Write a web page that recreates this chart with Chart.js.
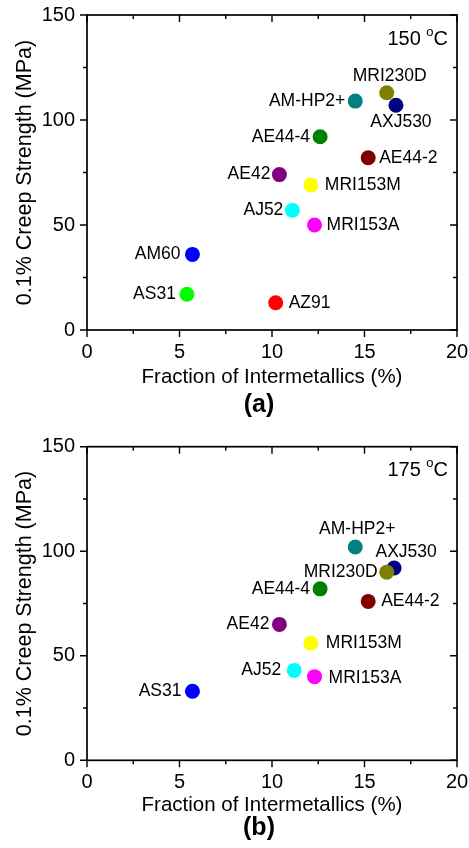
<!DOCTYPE html>
<html lang="en">
<head>
<meta charset="UTF-8">
<title>0.1% Creep Strength vs Fraction of Intermetallics</title>
<style>
  body { margin: 0; background: #fff; }
  canvas { display: block; }
</style>
</head>
<body>
<canvas id="chartA" width="469" height="424"></canvas>
<canvas id="chartB" width="469" height="424"></canvas>

<script src="https://cdn.jsdelivr.net/npm/chart.js"></script>
<script>
// (a) 150 °C
const alloysA   = ['MRI230D', 'AXJ530', 'AM-HP2+', 'AE44-4', 'AE44-2', 'AE42', 'MRI153M', 'AJ52', 'MRI153A', 'AM60', 'AS31', 'AZ91'];
const fractionA = [16.2, 16.7, 14.5, 12.6, 15.2, 10.4, 12.1, 11.1, 12.3, 5.7, 5.4, 10.2];
const strengthA = [113, 107, 109, 92, 82, 74, 69, 57, 50, 36, 17, 13];
const colorsA   = ['#808000', '#000080', '#008080', '#008000', '#800000', '#800080', '#ffff00', '#00ffff', '#ff00ff', '#0000ff', '#00ff00', '#ff0000'];

// (b) 175 °C
const alloysB   = ['AM-HP2+', 'AXJ530', 'MRI230D', 'AE44-4', 'AE44-2', 'AE42', 'MRI153M', 'AJ52', 'MRI153A', 'AS31'];
const fractionB = [14.5, 16.6, 16.2, 12.6, 15.2, 10.4, 12.1, 11.2, 12.3, 5.7];
const strengthB = [102, 92, 90, 82, 76, 65, 56, 43, 40, 33];
const colorsB   = ['#008080', '#000080', '#808000', '#008000', '#800000', '#800080', '#ffff00', '#00ffff', '#ff00ff', '#0000ff'];

const xTicks = [0, 5, 10, 15, 20];
const yTicks = [0, 50, 100, 150];

const FONT = '"Liberation Sans", Arial, sans-serif';

// where each label sits next to its dot: side, dx, dy (px)
const placeA = {
  'MRI230D': ['above', 3, -17], 'AXJ530': ['below', 5, 17], 'AM-HP2+': ['left', -10, 0],
  'AE44-4': ['left', -10, 0], 'AE44-2': ['right', 11, 0], 'AE42': ['left', -9, 0],
  'MRI153M': ['right', 14, 0], 'AJ52': ['left', -9, 0], 'MRI153A': ['right', 12, 0],
  'AM60': ['left', -12, 0], 'AS31': ['left', -11, 0], 'AZ91': ['right', 13, 0]
};
const placeB = {
  'AM-HP2+': ['above', 2, -18], 'AXJ530': ['above', 12, -16], 'MRI230D': ['left', -9, 0],
  'AE44-4': ['left', -10, 0], 'AE44-2': ['right', 13, 0], 'AE42': ['left', -10, 0],
  'MRI153M': ['right', 15, 0], 'AJ52': ['left', -13, 0], 'MRI153A': ['right', 14, 1],
  'AS31': ['left', -11, 0]
};

// box frame with ticks: outward on left/bottom, inward on top/right
const frameTicks = {
  id: 'frameTicks',
  afterDatasetsDraw(chart) {
    const { ctx, chartArea: a, scales: { x, y } } = chart;
    ctx.save();
    ctx.strokeStyle = '#000';
    ctx.lineWidth = 1.7;
    ctx.strokeRect(a.left, a.top, a.right - a.left, a.bottom - a.top);
    ctx.lineWidth = 1.4;
    ctx.beginPath();
    const xs = [], ys = [];
    xTicks.forEach((v, i) => {
      xs.push([x.getPixelForValue(v), 7]);
      if (i < xTicks.length - 1) xs.push([x.getPixelForValue((v + xTicks[i + 1]) / 2), 4]);
    });
    yTicks.forEach((v, i) => {
      ys.push([y.getPixelForValue(v), 7]);
      if (i < yTicks.length - 1) ys.push([y.getPixelForValue((v + yTicks[i + 1]) / 2), 4]);
    });
    xs.forEach(([px, len]) => {
      ctx.moveTo(px, a.bottom); ctx.lineTo(px, a.bottom + len);
      ctx.moveTo(px, a.top); ctx.lineTo(px, a.top + len);
    });
    ys.forEach(([py, len]) => {
      ctx.moveTo(a.left, py); ctx.lineTo(a.left - len, py);
      ctx.moveTo(a.right, py); ctx.lineTo(a.right - len, py);
    });
    ctx.stroke();
    ctx.restore();
  }
};

// alloy names next to the dots, temperature and panel letter
const annotations = {
  id: 'annotations',
  afterDatasetsDraw(chart, args, opts) {
    const { ctx, chartArea: a } = chart;
    const meta = chart.getDatasetMeta(0);
    ctx.save();
    ctx.fillStyle = '#000';
    ctx.font = '17.5px ' + FONT;
    ctx.textBaseline = 'middle';
    meta.data.forEach((pt, i) => {
      const name = opts.names[i];
      const [side, dx, dy] = opts.place[name];
      ctx.textAlign = side === 'left' ? 'right' : (side === 'right' ? 'left' : 'center');
      ctx.fillText(name, pt.x + dx, pt.y + dy);
    });

    // temperature, e.g. 150 °C with a raised o
    ctx.textBaseline = 'alphabetic';
    ctx.textAlign = 'left';
    ctx.font = '20px ' + FONT;
    const wNum = ctx.measureText(opts.temp + ' ').width;
    const wC = ctx.measureText('C').width;
    ctx.font = '13px ' + FONT;
    const wO = ctx.measureText('o').width;
    let tx = a.right - 9 - wC - wO - wNum;
    const base = a.top + opts.tempBase;
    ctx.font = '20px ' + FONT;
    ctx.fillText(opts.temp + ' ', tx, base);
    tx += wNum;
    ctx.font = '13px ' + FONT;
    ctx.fillText('o', tx, base - 9);
    tx += wO;
    ctx.font = '20px ' + FONT;
    ctx.fillText('C', tx, base);

    ctx.font = 'bold 25px ' + FONT;
    ctx.textAlign = 'center';
    ctx.textBaseline = 'middle';
    ctx.fillText(opts.panel, a.left + 172, a.bottom + opts.panelGap);
    ctx.restore();
  }
};

// no extra room for edge tick labels, the layout padding decides
function noEdgePadding(s) {
  s.paddingLeft = 0; s.paddingRight = 0; s.paddingTop = 0; s.paddingBottom = 0;
}

function makeChart(id, names, xs, ys, colors, place, temp, panel, pad) {
  return new Chart(document.getElementById(id), {
    type: 'scatter',
    data: {
      datasets: [{
        data: xs.map((v, i) => ({ x: v, y: ys[i] })),
        pointBackgroundColor: colors,
        pointBorderWidth: 0,
        pointRadius: 7.5,
        pointHoverRadius: 7.5
      }]
    },
    options: {
      responsive: false,
      animation: false,
      layout: { padding: { left: 0, right: 12, top: pad.top, bottom: 0 } },
      plugins: {
        legend: { display: false },
        tooltip: { enabled: false },
        annotations: { names, place, temp, panel, tempBase: pad.tempBase, panelGap: pad.panelGap }
      },
      scales: {
        x: {
          type: 'linear', min: 0, max: 20,
          afterBuildTicks: s => { s.ticks = xTicks.map(v => ({ value: v })); },
          afterFit: s => { s.height = pad.xHeight; noEdgePadding(s); },
          grid: { display: false, drawTicks: false },
          border: { display: false },
          ticks: { color: '#000', font: { family: FONT, size: 20 }, padding: 10, maxRotation: 0 },
          title: {
            display: true, text: 'Fraction of Intermetallics (%)', color: '#000',
            font: { family: FONT, size: 20.5 }, padding: { top: 0, bottom: pad.xTitle }
          }
        },
        y: {
          type: 'linear', min: 0, max: 150,
          afterBuildTicks: s => { s.ticks = yTicks.map(v => ({ value: v })); },
          afterFit: s => { s.width = 87; noEdgePadding(s); },
          grid: { display: false, drawTicks: false },
          border: { display: false },
          ticks: { color: '#000', font: { family: FONT, size: 20 }, padding: 12 },
          title: {
            display: true, text: '0.1% Creep Strength (MPa)', color: '#000',
            font: { family: FONT, size: 21.5 }, padding: { top: 12, bottom: 0 }
          }
        }
      }
    },
    plugins: [frameTicks, annotations]
  });
}

makeChart('chartA', alloysA, fractionA, strengthA, colorsA, placeA, '150', '(a)',
  { top: 15, xHeight: 94, xTitle: 34, tempBase: 30, panelGap: 75 });
makeChart('chartB', alloysB, fractionB, strengthB, colorsB, placeB, '175', '(b)',
  { top: 22.7, xHeight: 87.7, xTitle: 30, tempBase: 29, panelGap: 68 });
</script>
</body>
</html>
